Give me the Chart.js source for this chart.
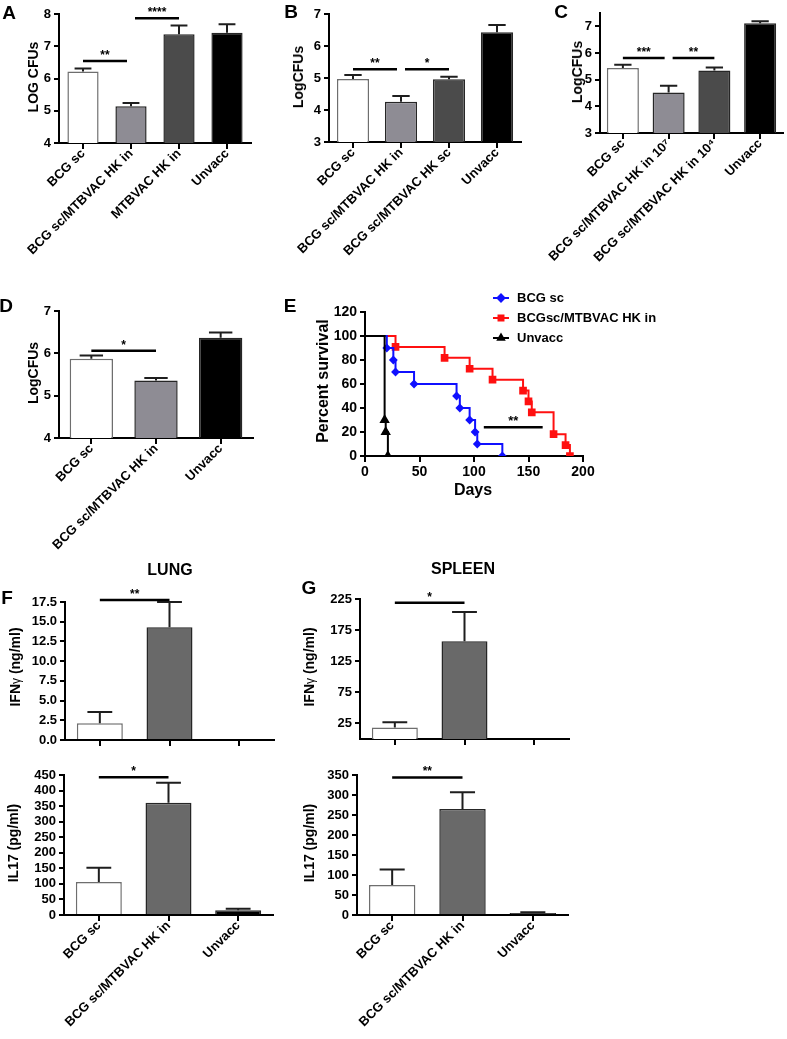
<!DOCTYPE html>
<html>
<head>
<meta charset="utf-8">
<script src="https://cdn.jsdelivr.net/npm/chart.js@4.4.1/dist/chart.umd.min.js"></script>
<style>
  html, body { margin: 0; padding: 0; background: #fff; }
  #fig { position: relative; width: 787px; height: 1039px; overflow: hidden; font-family: 'Liberation Sans', Arial, sans-serif; }
  #fig canvas { position: absolute; }
  .txt { position: absolute; font-weight: bold; color: #000; white-space: nowrap; line-height: 1; transform: translate(-50%, -50%); }
  .v { transform: translate(-50%, -50%) rotate(-90deg); }
  .panel { font-size: 19px; }
  .ttl { font-size: 14px; }
  .big { font-size: 16px; }
  .g { font-weight: normal; font-size: 12px; }
</style>
</head>
<body>
<div id="fig">
  <canvas id="chartA"></canvas>
  <canvas id="chartB"></canvas>
  <canvas id="chartC"></canvas>
  <canvas id="chartD"></canvas>
  <canvas id="chartE"></canvas>
  <canvas id="chartF1"></canvas>
  <canvas id="chartF2"></canvas>
  <canvas id="chartG1"></canvas>
  <canvas id="chartG2"></canvas>

  <div class="txt panel" style="left:9px;top:12px">A</div>
  <div class="txt panel" style="left:291px;top:11px">B</div>
  <div class="txt panel" style="left:561px;top:11px">C</div>
  <div class="txt panel" style="left:6px;top:305px">D</div>
  <div class="txt panel" style="left:290px;top:305px">E</div>
  <div class="txt panel" style="left:7px;top:597px">F</div>
  <div class="txt panel" style="left:309px;top:587px">G</div>

  <div class="txt ttl v" style="left:33px;top:77px">LOG CFUs</div>
  <div class="txt ttl v" style="left:298px;top:77px">LogCFUs</div>
  <div class="txt ttl v" style="left:577px;top:72px">LogCFUs</div>
  <div class="txt ttl v" style="left:33px;top:373px">LogCFUs</div>
  <div class="txt big v" style="left:323px;top:381px">Percent survival</div>
  <div class="txt big" style="left:473px;top:490px">Days</div>

  <div class="txt big" style="left:170px;top:570px">LUNG</div>
  <div class="txt big" style="left:463px;top:569px">SPLEEN</div>
  <div class="txt ttl v" style="left:15px;top:667px">IFN<span class="g">γ</span> (ng/ml)</div>
  <div class="txt ttl v" style="left:13px;top:843px">IL17 (pg/ml)</div>
  <div class="txt ttl v" style="left:309px;top:667px">IFN<span class="g">γ</span> (ng/ml)</div>
  <div class="txt ttl v" style="left:309px;top:843px">IL17 (pg/ml)</div>
</div>
<script>
Chart.defaults.font.family = "'Liberation Sans', Arial, sans-serif";
Chart.defaults.font.weight = 'bold';
Chart.defaults.color = '#000';

// ---- data ----
// A
const labelsA = ['BCG sc', 'BCG sc/MTBVAC HK in', 'MTBVAC HK in', 'Unvacc'];
const meanA = [6.22, 5.14, 7.37, 7.42];
const semA = [0.09, 0.10, 0.27, 0.26];
const sigPairsA = [[0, 1], [1, 2]];
const sigLevelA = [6.54, 7.87];
const sigStarsA = ['**', '****'];

// B
const labelsB = ['BCG sc', 'BCG sc/MTBVAC HK in', 'BCG sc/MTBVAC HK sc', 'Unvacc'];
const meanB = [4.97, 4.26, 4.96, 6.43];
const semB = [0.12, 0.18, 0.08, 0.23];
const sigPairsB = [[0, 1], [1, 2]];
const sigLevelB = [5.27, 5.27];
const sigStarsB = ['**', '*'];

// C
const labelsC = ['BCG sc', 'BCG sc/MTBVAC HK in 10\u2077', 'BCG sc/MTBVAC HK in 10\u2074', 'Unvacc'];
const meanC = [5.44, 4.52, 5.34, 7.12];
const semC = [0.12, 0.25, 0.12, 0.07];
const sigPairsC = [[0, 1], [1, 2]];
const sigLevelC = [5.81, 5.81];
const sigStarsC = ['***', '**'];

// D
const labelsD = ['BCG sc', 'BCG sc/MTBVAC HK in', 'Unvacc'];
const meanD = [5.87, 5.36, 6.37];
const semD = [0.08, 0.06, 0.12];
const sigPairsD = [[0, 1]];
const sigLevelD = [6.06];
const sigStarsD = ['*'];

// E - survival
const daysBcg = [0, 20, 26, 28, 45, 84, 87, 96, 101, 103, 126];
const survBcg = [100, 90, 80, 70, 60, 50, 40, 30, 20, 10, 0];
const daysHk = [0, 28, 73, 96, 117, 145, 150, 153, 173, 184, 188];
const survHk = [100, 90.9, 81.8, 72.7, 63.6, 54.5, 45.5, 36.4, 18.2, 9.1, 0];
const daysUnv = [0, 18, 19, 21];
const survUnv = [100, 30, 20, 0];
const sigDaysE = [109, 163];
const sigLevelE = 24;

// F / G
const labelsFG = ['BCG sc', 'BCG sc/MTBVAC HK in', 'Unvacc'];
const ifnLung = [2.12, 14.3, 0];
const ifnLungErr = [1.43, 3.2, 0];
const il17Lung = [106, 361, 15];
const il17LungErr = [46, 64, 5];
const ifnSpleen = [18.5, 157, 0];
const ifnSpleenErr = [8.5, 47, 0];
const il17Spleen = [75, 265, 5];
const il17SpleenErr = [39, 42, 2];
const ifnSpleenTicks = [25, 75, 125, 175, 225];
const sigPairsFG = [[0, 1]];
const sigLevelF = [17.75, 443];
const sigLevelG = [219, 344];
const sigStarsF = ['**', '*'];
const sigStarsG = ['*', '**'];

// ---- styling ----
const WHITE = '#ffffff', LIGHT = '#8e8c94', DARK = '#4b4b4b', MID = '#696969', BLACK = '#000000';

function place(id, box) {
  const c = document.getElementById(id);
  c.width = box[2];
  c.height = box[3];
  c.style.left = box[0] + 'px';
  c.style.top = box[1] + 'px';
  return c;
}

function extras(errors, pairs, levels, stars) {
  return {
    id: 'barExtras',
    afterDatasetsDraw(chart) {
      const { ctx } = chart;
      const y = chart.scales.y;
      const meta = chart.getDatasetMeta(0);
      const values = chart.data.datasets[0].data;
      ctx.save();
      ctx.strokeStyle = '#1e1e1e';
      ctx.lineWidth = 2;
      errors.forEach((e, i) => {
        if (!e) return;
        const bar = meta.data[i];
        const top = y.getPixelForValue(values[i] + e);
        const half = bar.width * 0.27;
        ctx.beginPath();
        ctx.moveTo(bar.x, bar.y);
        ctx.lineTo(bar.x, top);
        ctx.moveTo(bar.x - half, top);
        ctx.lineTo(bar.x + half, top);
        ctx.stroke();
      });
      ctx.strokeStyle = '#000';
      ctx.fillStyle = '#000';
      ctx.lineWidth = 2.5;
      ctx.font = "bold 12px 'Liberation Sans', Arial, sans-serif";
      ctx.textAlign = 'center';
      ctx.textBaseline = 'alphabetic';
      pairs.forEach(([a, b], k) => {
        let xa = meta.data[a].x, xb = meta.data[b].x;
        if (pairs.some(p => p[1] === a)) xa += 4;
        if (pairs.some(p => p[0] === b)) xb -= 4;
        const py = y.getPixelForValue(levels[k]);
        ctx.beginPath();
        ctx.moveTo(xa, py);
        ctx.lineTo(xb, py);
        ctx.stroke();
        ctx.fillText(stars[k], (xa + xb) / 2, py - 2);
      });
      ctx.restore();
    }
  };
}

const axisGrid = { drawOnChartArea: false, color: '#000', lineWidth: 2, tickLength: 6 };
const axisBorder = { color: '#000', width: 2 };

function barChart(id, box, plot, labels, values, errors, colors, yOpts, sig, showLabels, barPct) {
  const [L, T, W, H] = box;
  const [x0, y0, x1, y1] = plot;
  return new Chart(place(id, box), {
    type: 'bar',
    data: {
      labels,
      datasets: [{
        data: values,
        backgroundColor: colors,
        borderColor: colors.map(c => c === WHITE ? '#6e6e6e' : '#262626'),
        borderWidth: 1.5,
        barPercentage: barPct,
        categoryPercentage: 1
      }]
    },
    options: {
      responsive: false,
      animation: false,
      devicePixelRatio: 1,
      events: [],
      layout: { padding: { left: 0, bottom: 0, top: y0 - T, right: L + W - x1 } },
      plugins: { legend: { display: false }, tooltip: { enabled: false } },
      scales: {
        x: {
          grid: Object.assign({ offset: false }, axisGrid),
          border: axisBorder,
          ticks: {
            display: showLabels, minRotation: 45, maxRotation: 45, autoSkip: false,
            font: { size: 13, weight: 'bold' }, color: '#000', padding: -3
          },
          afterFit: s => { s.height = T + H - y1; s.paddingLeft = 0; s.paddingRight = 0; }
        },
        y: Object.assign({
          grid: Object.assign({}, axisGrid, { tickLength: 5 }),
          border: axisBorder,
          afterFit: s => { s.width = x0 - L; s.paddingTop = 0; s.paddingBottom = 0; }
        }, yOpts)
      }
    },
    plugins: [extras(errors, sig[0], sig[1], sig[2])]
  });
}

const tick13 = { font: { size: 13, weight: 'bold' }, color: '#000', padding: 3, autoSkip: false };

barChart('chartA', [0, 0, 262, 285], [59, 14, 251, 143], labelsA, meanA, semA,
  [WHITE, LIGHT, DARK, BLACK],
  { min: 4, max: 8, ticks: Object.assign({ stepSize: 1 }, tick13) },
  [sigPairsA, sigLevelA, sigStarsA], true, 0.65);

barChart('chartB', [262, 0, 262, 285], [329, 14, 521, 142], labelsB, meanB, semB,
  [WHITE, LIGHT, DARK, BLACK],
  { min: 3, max: 7, ticks: Object.assign({ stepSize: 1 }, tick13) },
  [sigPairsB, sigLevelB, sigStarsB], true, 0.67);

barChart('chartC', [524, 0, 263, 285], [600, 13, 783, 133], labelsC, meanC, semC,
  [WHITE, LIGHT, DARK, BLACK],
  { min: 3, max: 7.5, ticks: Object.assign({ stepSize: 1, includeBounds: false }, tick13) },
  [sigPairsC, sigLevelC, sigStarsC], true, 0.70);

barChart('chartD', [0, 290, 262, 265], [59, 311, 253, 438], labelsD, meanD, semD,
  [WHITE, LIGHT, BLACK],
  { min: 4, max: 7, ticks: Object.assign({ stepSize: 1 }, tick13) },
  [sigPairsD, sigLevelD, sigStarsD], true, 0.67);

barChart('chartF1', [0, 580, 290, 170], [65, 602, 274, 740], labelsFG, ifnLung, ifnLungErr,
  [WHITE, MID, BLACK],
  { min: 0, max: 17.5, ticks: Object.assign({ stepSize: 2.5, callback: v => v.toFixed(1) }, tick13) },
  [sigPairsFG, [sigLevelF[0]], [sigStarsF[0]]], false, 0.66);

barChart('chartF2', [0, 760, 290, 279], [64, 775, 273, 915], labelsFG, il17Lung, il17LungErr,
  [WHITE, MID, BLACK],
  { min: 0, max: 450, ticks: Object.assign({ stepSize: 50 }, tick13) },
  [sigPairsFG, [sigLevelF[1]], [sigStarsF[1]]], true, 0.66);

barChart('chartG1', [290, 580, 290, 170], [360, 599, 569, 739], labelsFG, ifnSpleen, ifnSpleenErr,
  [WHITE, MID, BLACK],
  { min: 0, max: 225, ticks: tick13,
    afterBuildTicks: s => { s.ticks = ifnSpleenTicks.map(value => ({ value })); } },
  [sigPairsFG, [sigLevelG[0]], [sigStarsG[0]]], false, 0.66);

barChart('chartG2', [290, 760, 290, 279], [357, 775, 568, 915], labelsFG, il17Spleen, il17SpleenErr,
  [WHITE, MID, BLACK],
  { min: 0, max: 350, ticks: Object.assign({ stepSize: 50 }, tick13) },
  [sigPairsFG, [sigLevelG[1]], [sigStarsG[1]]], true, 0.66);

// ---- E: survival curves ----
const toPts = (xs, ys) => xs.map((x, i) => ({ x, y: ys[i] }));
const radii = (xs, r) => xs.map((_, i) => (i === 0 ? 0 : r));

const kmExtras = {
  id: 'kmExtras',
  afterDraw(chart) {
    const { ctx } = chart;
    const x = chart.scales.x, y = chart.scales.y;
    ctx.save();
    // significance bar
    const py = y.getPixelForValue(sigLevelE);
    ctx.strokeStyle = '#000';
    ctx.lineWidth = 2.5;
    ctx.beginPath();
    ctx.moveTo(x.getPixelForValue(sigDaysE[0]), py);
    ctx.lineTo(x.getPixelForValue(sigDaysE[1]), py);
    ctx.stroke();
    ctx.fillStyle = '#000';
    ctx.font = "bold 13px 'Liberation Sans', Arial, sans-serif";
    ctx.textAlign = 'center';
    ctx.fillText('**', x.getPixelForValue((sigDaysE[0] + sigDaysE[1]) / 2), py - 2);
    // legend
    ctx.textAlign = 'left';
    ctx.textBaseline = 'middle';
    chart.data.datasets.forEach((ds, i) => {
      const ly = 8 + i * 20, lx = 231;
      ctx.strokeStyle = ds.borderColor;
      ctx.fillStyle = ds.borderColor;
      ctx.lineWidth = 2;
      ctx.beginPath();
      ctx.moveTo(lx, ly);
      ctx.lineTo(lx + 16, ly);
      ctx.stroke();
      Chart.helpers.drawPoint(ctx, { pointStyle: ds.pointStyle, radius: 3.5, borderWidth: 1, rotation: 0 }, lx + 8, ly);
      ctx.fillStyle = '#000';
      ctx.fillText(ds.label, lx + 24, ly);
    });
    ctx.restore();
  }
};

new Chart(place('chartE', [262, 290, 420, 200]), {
  type: 'line',
  data: {
    datasets: [
      { label: 'BCG sc', data: toPts(daysBcg, survBcg), borderColor: '#1010ff', backgroundColor: '#1010ff',
        stepped: true, borderWidth: 2, pointStyle: 'rectRot', pointRadius: radii(daysBcg, 3), order: 1 },
      { label: 'BCGsc/MTBVAC HK in', data: toPts(daysHk, survHk), borderColor: '#ff1010', backgroundColor: '#ff1010',
        stepped: true, borderWidth: 2, pointStyle: 'rect', pointRadius: radii(daysHk, 4), order: 2 },
      { label: 'Unvacc', data: toPts(daysUnv, survUnv), borderColor: '#000000', backgroundColor: '#000000',
        stepped: true, borderWidth: 2, pointStyle: 'triangle', pointRadius: radii(daysUnv, 4), order: 0 }
    ]
  },
  options: {
    responsive: false,
    animation: false,
    devicePixelRatio: 1,
    events: [],
    layout: { padding: { left: 0, bottom: 0, top: 312 - 290, right: 682 - 583 } },
    plugins: { legend: { display: false }, tooltip: { enabled: false } },
    scales: {
      x: {
        type: 'linear', min: 0, max: 200,
        grid: axisGrid, border: axisBorder,
        ticks: { stepSize: 50, font: { size: 14, weight: 'bold' }, color: '#000', padding: 2 },
        afterFit: s => { s.height = 490 - 456; s.paddingLeft = 0; s.paddingRight = 0; }
      },
      y: {
        min: 0, max: 120,
        grid: Object.assign({}, axisGrid, { tickLength: 5 }), border: axisBorder,
        ticks: { stepSize: 20, font: { size: 14, weight: 'bold' }, color: '#000', padding: 3 },
        afterFit: s => { s.width = 365 - 262; s.paddingTop = 0; s.paddingBottom = 0; }
      }
    }
  },
  plugins: [kmExtras]
});
</script>
</body>
</html>
